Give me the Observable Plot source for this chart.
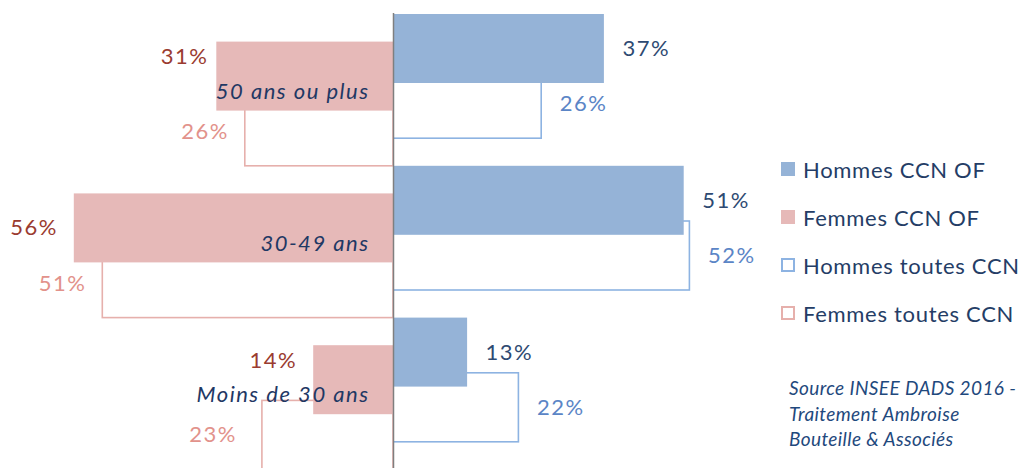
<!DOCTYPE html>
<html>
<head>
<meta charset="utf-8">
<script src="https://cdn.jsdelivr.net/npm/d3@7"></script>
<script src="https://cdn.jsdelivr.net/npm/@observablehq/plot@0.6"></script>
<style>
  html, body { margin: 0; padding: 0; background: #fff; }
  #wrap { position: relative; width: 1027px; height: 468px; overflow: hidden; font-family: Lato, "Open Sans", sans-serif; }
  #legend { position: absolute; left: 781px; top: 157px; }
  .item { display: flex; align-items: center; height: 24px; margin-bottom: 24px; font-size: 22px; color: #243d66; letter-spacing: 0.7px; white-space: nowrap; }
  .sw { width: 14px; height: 14px; margin-right: 8px; box-sizing: border-box; flex: none; }
  #source { position: absolute; left: 789px; top: 375px; font-style: italic; font-size: 19px; line-height: 25.5px; letter-spacing: 0.4px; color: #1f497d; }
</style>
</head>
<body>
<div id="wrap">
  <div id="chart"></div>
  <div id="legend"></div>
  <div id="source">Source INSEE DADS 2016 -<br>Traitement Ambroise<br>Bouteille &amp; Associés</div>
</div>
<script>
// ---- data ----
const categories = ["50 ans ou plus", "30-49 ans", "Moins de 30 ans"];
const seriesNames = ["Hommes CCN OF", "Femmes CCN OF", "Hommes toutes CCN", "Femmes toutes CCN"];
const hommesOF = [37, 51, 13];
const femmesOF = [31, 56, 14];
const hommesToutes = [26, 52, 22];
const femmesToutes = [26, 51, 23];

// ---- styles ----
const barColor = {"Hommes CCN OF": "#95b3d7", "Femmes CCN OF": "#e6b9b8", "Hommes toutes CCN": "#8db3e2", "Femmes toutes CCN": "#e6b0ac"};
const labelColor = {"Hommes CCN OF": "#2e4a72", "Femmes CCN OF": "#9a3b30", "Hommes toutes CCN": "#5b85c6", "Femmes toutes CCN": "#e2928b"};

// ---- layout ----
const W = 1027, H = 468;
const zeroX = 393, pxPerPct = 5.7;
const topPx = 14, slotPx = 27.6, groupSlots = 5.5, barSlots = 2.5;
const labelGap = 18;
// manual label nudges (px), as in the original
const nudge = {"50 ans ou plus|Femmes CCN OF": {gap: 10, dy: -20}, "Moins de 30 ans|Femmes CCN OF": {dy: -19}, "Moins de 30 ans|Femmes toutes CCN": {gap: 27}};

const seriesValues = [hommesOF, femmesOF, hommesToutes, femmesToutes];
const side = [1, -1, 1, -1];
const rows = categories.flatMap((cat, g) => seriesNames.map((series, s) => ({
  cat, g, s, series, value: seriesValues[s][g], side: side[s], filled: s < 2
})));
const y1 = d => d.g * groupSlots + d.s;
const y2 = d => y1(d) + barSlots;
const yc = d => y1(d) + barSlots / 2;
const filled = rows.filter(d => d.filled);
const outlined = rows.filter(d => !d.filled);

const labelX = d => {
  const n = nudge[d.cat + "|" + d.series] || {};
  return d.side * (d.value + (n.gap ?? labelGap) / pxPerPct);
};
const labelY = d => {
  const n = nudge[d.cat + "|" + d.series] || {};
  return yc(d) + (n.dy ?? 0) / slotPx;
};
const labelOpts = {x: labelX, y: labelY, text: d => d.value + "%", fill: d => labelColor[d.series], fontSize: 22};

const chart = Plot.plot({
  width: W, height: H,
  marginTop: 0, marginBottom: 0, marginLeft: 0, marginRight: 0,
  style: {fontFamily: "Lato, 'Open Sans', sans-serif", background: "white", letterSpacing: "1.5px"},
  x: {domain: [-zeroX / pxPerPct, (W - zeroX) / pxPerPct], range: [0, W], axis: null},
  y: {domain: [-topPx / slotPx, (H - topPx) / slotPx], range: [0, H], axis: null},
  marks: [
    Plot.rect(outlined, {x1: () => 0, x2: d => d.side * d.value, y1, y2, fill: "white", stroke: d => barColor[d.series], strokeWidth: 1.6}),
    Plot.rect(filled, {x1: () => 0, x2: d => d.side * d.value, y1, y2, fill: d => barColor[d.series]}),
    Plot.ruleX([0], {y1: () => -1 / slotPx, y2: () => (H - topPx) / slotPx, stroke: "#7f7f7f", strokeWidth: 1.5}),
    Plot.text(rows.filter(d => d.side > 0), {...labelOpts, textAnchor: "start"}),
    Plot.text(rows.filter(d => d.side < 0), {...labelOpts, textAnchor: "end", dx: 1.5}),
    Plot.text(categories, {x: () => 0, y: (d, i) => i * groupSlots + 2.8, text: d => d, dx: -24, textAnchor: "end",
      fontSize: 22, fontStyle: "italic", fill: "#1f3864"})
  ]
});
document.getElementById("chart").appendChild(chart);

// ---- legend ----
const legend = document.getElementById("legend");
seriesNames.forEach((name, s) => {
  const item = document.createElement("div");
  item.className = "item";
  const sw = document.createElement("span");
  sw.className = "sw";
  if (s < 2) { sw.style.background = barColor[name]; }
  else { sw.style.border = "2px solid " + barColor[name]; sw.style.background = "white"; }
  item.appendChild(sw);
  item.appendChild(document.createTextNode(name));
  legend.appendChild(item);
});
</script>
</body>
</html>
